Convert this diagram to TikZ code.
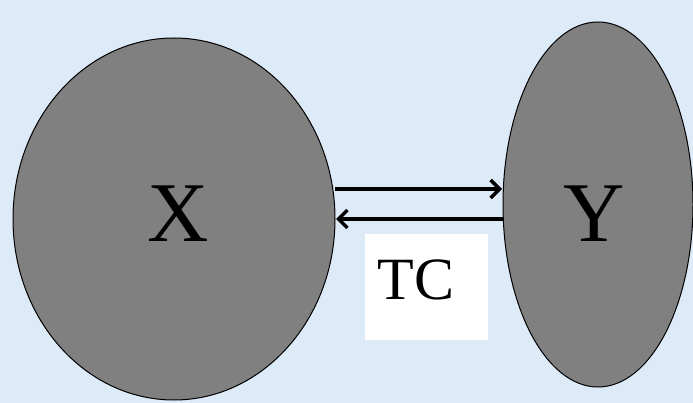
\documentclass[tikz,border=0pt]{standalone}
\usepackage{fontspec}
\setmainfont{Liberation Serif}
\usetikzlibrary{arrows.meta,shapes.geometric}
\definecolor{bgblue}{RGB}{221,234,248}
\definecolor{blobgray}{RGB}{128,128,128}
\begin{document}
\begin{tikzpicture}[x=1pt,y=-1pt,
  blob/.style={ellipse,draw=black,line width=1pt,fill=blobgray,inner sep=0pt},
  conn/.style={line width=3.6pt,-{Straight Barb[length=9pt,width=18pt,line width=3.4pt]}},
  bigtext/.style={font=\fontsize{85}{85}\selectfont,inner sep=0pt}]
\fill[bgblue] (0,0) rectangle (693,403);
\useasboundingbox (0,0) rectangle (693,403);
\node[blob,minimum width=322pt,minimum height=362pt] (X) at (174,219) {};
\node[blob,minimum width=190pt,minimum height=365pt] (Y) at (598,204.5) {};
\node[bigtext] (xl) at (178,214) {X};
\node[bigtext] (yl) at (594,214) {Y};
\coordinate (a1) at (335,189);
\coordinate (a2) at (502,189);
\coordinate (b1) at (503,219);
\coordinate (b2) at (336,219);
\draw[conn] (a1) -- (a2);
\draw[conn] (b1) -- (b2);
\node[fill=white,minimum width=123pt,minimum height=106pt,inner sep=0pt] (box) at (426.5,287) {};
\node[font=\fontsize{60}{60}\selectfont,inner sep=0pt] (tc) at (416,280) {TC};
\end{tikzpicture}
\end{document}
